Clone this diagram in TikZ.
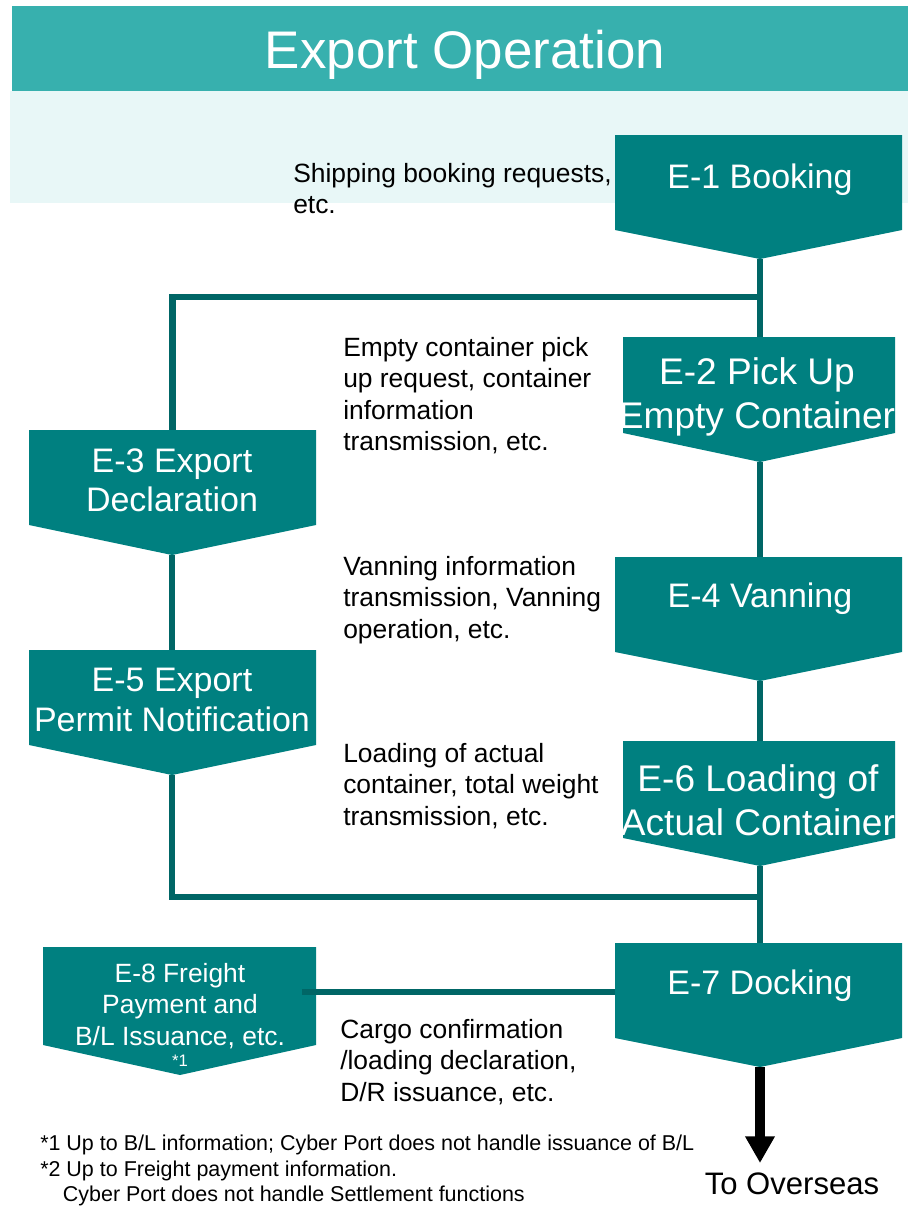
\documentclass[tikz,border=0pt]{standalone}
\usepackage{fontspec}
\setmainfont{Liberation Sans}
\usetikzlibrary{fit,arrows.meta,calc}
\definecolor{hdr}{RGB}{55,176,174}
\definecolor{band}{RGB}{232,247,247}
\definecolor{boxc}{RGB}{0,128,128}
\definecolor{linec}{RGB}{0,102,102}
% name, left, right, top, side bottom, tip x, tip y
\newcommand\stagebox[7]{%
  \fill[boxc] (#2,#4) -- (#3,#4) -- (#3,#5) -- (#6,#7) -- (#2,#5) -- cycle;
  \node[fit={(#2,#4) (#3,#5)}, inner sep=0pt, outer sep=0pt] (#1) {};
  \coordinate (#1tip) at (#6,#7);
}
\tikzset{
  conn/.style={draw=linec, line width=4.8pt},
  lbl/.style={text=white, inner sep=0pt, align=center, font=\fontsize{25.5}{29.5}\selectfont},
  lblbig/.style={text=white, inner sep=0pt, align=center, font=\fontsize{27.8}{33}\selectfont},
  desc/.style={anchor=north west, inner sep=0pt, align=left, font=\fontsize{19.8}{23.6}\selectfont},
}
\begin{document}
\begin{tikzpicture}[x=0.75pt, y=-0.75pt, line join=miter]
\useasboundingbox (0,0) rectangle (908,1208);
% header and band
\fill[band] (10,91) rectangle (908,203);
\fill[hdr] (12,6) rectangle (908,91);
\node[anchor=base, text=white, inner sep=0pt, font=\fontsize{39.7}{47}\selectfont] (title) at (465,68) {Export Operation};

% stage boxes
\stagebox{e1}{615}{902}{135}{230}{760}{259}
\stagebox{e2}{623}{895}{337}{433}{760}{462}
\stagebox{e3}{29}{316}{430}{525}{172}{555}
\stagebox{e4}{615}{902}{557}{652}{760}{681}
\stagebox{e5}{29}{316}{650}{745}{172}{775}
\stagebox{e6}{623}{895}{741}{838}{760}{866}
\stagebox{e7}{615}{902}{943}{1038}{760}{1067}
\stagebox{e8}{43}{316}{947}{1045}{180}{1075}

% labels
\node[lbl] (e1t) at (760,180) {E-1 Booking};
\node[lblbig] (e2t) at (757,397) {E-2 Pick Up\\Empty Container};
\node[lbl, font=\fontsize{25.5}{29.3}\selectfont] (e3t) at (172,480) {E-3 Export\\Declaration};
\node[lbl] (e4t) at (760,599) {E-4 Vanning};
\node[lbl, font=\fontsize{25.5}{30}\selectfont] (e5t) at (172,700) {E-5 Export\\Permit Notification};
\node[lblbig] (e6t) at (758,800) {E-6 Loading of\\Actual Container};
\node[lbl] (e7t) at (760,986) {E-7 Docking};
\node[lbl, font=\fontsize{19.8}{23.8}\selectfont] (e8t) at (180,1006) {E-8 Freight\\Payment and\\B/L Issuance, etc.};
\node[text=white, inner sep=0pt, font=\fontsize{12.5}{14}\selectfont] (e8n) at (180,1061) {*1};

% descriptions
\node[desc] (d1) at (293,163) {Shipping booking requests,\\etc.};
\node[desc] (d2) at (343,337) {Empty container pick\\up request, container\\information\\transmission, etc.};
\node[desc] (d4) at (343,556) {Vanning information\\transmission, Vanning\\operation, etc.};
\node[desc] (d6) at (343,743) {Loading of actual\\container, total weight\\transmission, etc.};
\node[desc] (d7) at (340,1019) {Cargo confirmation\\/loading declaration,\\D/R issuance, etc.};

% connectors
\coordinate (j1) at (760,297);
\coordinate (j2) at (760,897);
\coordinate (e8r) at (302,992);
\coordinate (ovs) at (760,1163);
\draw[conn] (e1tip) -- (e1tip |- e2.north);
\draw[conn] (j1) -| (e3.north);
\draw[conn] (e2tip) -- (e2tip |- e4.north);
\draw[conn] (e3tip) -- (e3tip |- e5.north);
\draw[conn] (e4tip) -- (e4tip |- e6.north);
\draw[conn] (e5tip) |- (j2);
\draw[conn] (e6tip) -- (e6tip |- e7.north);
\draw[conn] (e8r) -- (e8r -| e7.west);
\draw[line width=7pt, -{Triangle[length=20pt, width=21pt]}] (e7tip) -- (ovs);
\node[anchor=base, inner sep=0pt, font=\fontsize{23.3}{28}\selectfont] (ovt) at (792,1194) {To Overseas};

% footnotes
\node[anchor=north west, inner sep=0pt, align=left, font=\fontsize{16.1}{19.1}\selectfont] (fn) at (40,1135)
 {*1 Up to B/L information; Cyber Port does not handle issuance of B/L\\
  *2 Up to Freight payment information.\\
  \hspace*{17pt}Cyber Port does not handle Settlement functions};
\end{tikzpicture}
\end{document}
